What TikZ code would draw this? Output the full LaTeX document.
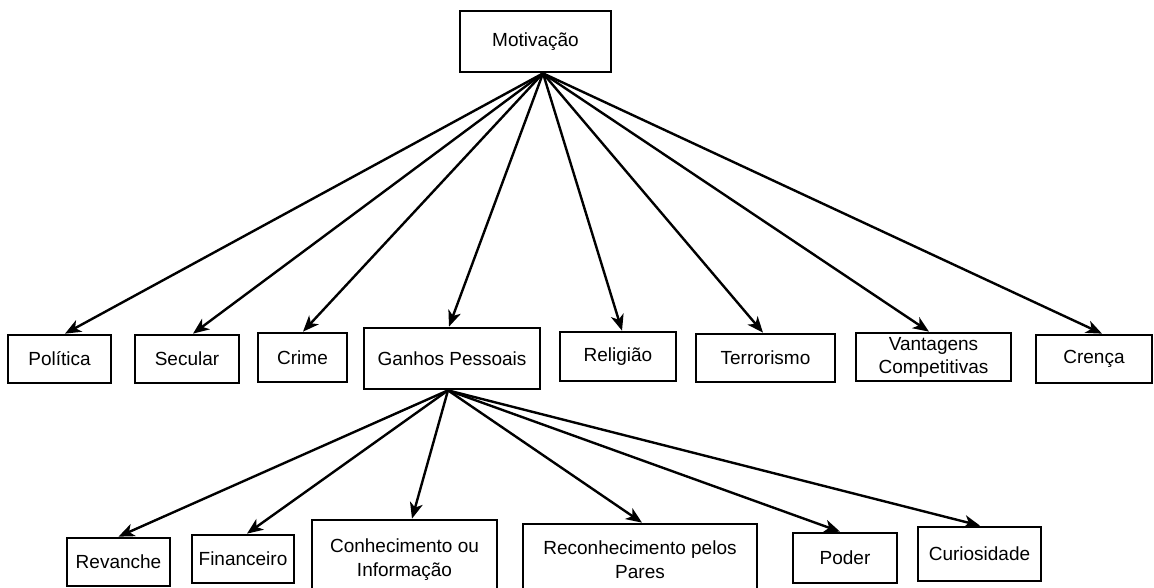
\documentclass[tikz,border=0pt]{standalone}
\usepackage{fontspec}
\setmainfont{Liberation Sans}
\usetikzlibrary{arrows.meta,calc}

\tikzset{
  box/.style={draw=black, line width=2.7pt, fill=white, inner sep=0pt,
    align=center, font=\fontsize{19}{24}\selectfont},
  arr/.style={draw=black, line width=2.4pt,
    -{Stealth[length=16pt,width=13pt,inset=4.5pt]}}
}

\begin{document}
\begin{tikzpicture}[x=1pt,y=-1pt]
\useasboundingbox (0,0) rectangle (1154,588);
\clip (0,0) rectangle (1154,588);

% root
\node[box, minimum width=151, minimum height=61] (mot) at (535.5,41.5) {Motivação};

% first level
\node[box, minimum width=103, minimum height=48] (pol) at (59.5,359) {Política};
\node[box, minimum width=104, minimum height=48] (sec) at (187,359) {Secular};
\node[box, minimum width=89,  minimum height=49] (cri) at (302.5,357.5) {Crime};
\node[box, minimum width=176, minimum height=61] (gan) at (452,358.5) {Ganhos Pessoais};
\node[box, minimum width=116, minimum height=49] (rel) at (618,356.5) {Religião};
\node[box, minimum width=139, minimum height=48] (ter) at (765.5,358) {Terrorismo};
\node[box, minimum width=155, minimum height=48,
      font=\fontsize{19}{25}\selectfont] (van) at (933.5,357) {\raisebox{-2pt}{Vantagens}\\Competitivas};
\node[box, minimum width=116, minimum height=48] (cre) at (1094,359) {Crença};

% second level
\node[box, minimum width=103, minimum height=48] (rev) at (118.5,562) {Revanche};
\node[box, minimum width=102, minimum height=48] (fin) at (243,559) {Financeiro};
\node[box, minimum width=185, minimum height=80] (con) at (404.5,560) {Conhecimento ou\\Informação};
\node[box, minimum width=234, minimum height=72] (rec) at (640,560) {Reconhecimento pelos\\Pares};
\node[box, minimum width=104, minimum height=50] (pod) at (845,558) {Poder};
\node[box, minimum width=123, minimum height=54] (cur) at (979.5,554) {Curiosidade};

% fan-out points
\coordinate (mo) at ($(mot.south)+(7.5,0)$);
\coordinate (go) at ($(gan.south)+(-4,0)$);

% connectors from the root
\draw[arr] (mo) -- ($(pol.north)+(5.5,0)$);
\draw[arr] (mo) -- ($(sec.north)+(6,0)$);
\draw[arr] (mo) -- ($(cri.north)+(0.5,0)$);
\draw[arr] (mo) -- ($(gan.north)+(-3,0)$);
\draw[arr] (mo) -- ($(rel.north)+(4,0)$);
\draw[arr] (mo) -- ($(ter.north)+(-2.5,0)$);
\draw[arr] (mo) -- ($(van.north)+(-4.5,0)$);
\draw[arr] (mo) -- ($(cre.north)+(8,0)$);

% connectors from Ganhos Pessoais
\draw[arr] (go) -- (rev.north);
\draw[arr] (go) -- ($(fin.north)+(4,0)$);
\draw[arr] (go) -- ($(con.north)+(7.5,0)$);
\draw[arr] (go) -- ($(rec.north)+(2,0)$);
\draw[arr] (go) -- ($(pod.north)+(-5,0)$);
\draw[arr] (go) -- ($(cur.north)+(0.5,0)$);
\end{tikzpicture}
\end{document}
